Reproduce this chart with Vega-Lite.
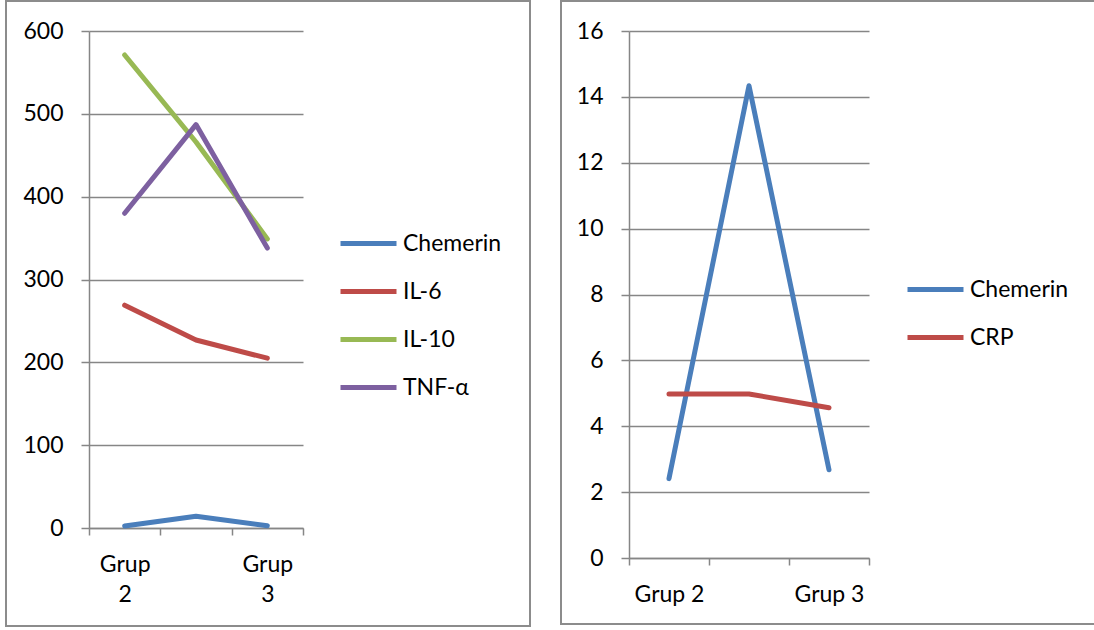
{
  "$schema": "https://vega.github.io/schema/vega-lite/v6.json",
  "padding": {"left": 5, "top": 0, "right": 0, "bottom": 0},
  "background": "white",
  "spacing": 29,
  "config": {
    "view": {"stroke": "#8c8c8c", "strokeWidth": 2},
    "font": "Lato",
    "axis": {
      "labelFont": "Lato", "labelFontSize": 23, "labelColor": "#000000",
      "domainColor": "#868686", "domainWidth": 1.5,
      "tickColor": "#868686", "tickWidth": 1.5,
      "gridColor": "#868686", "gridWidth": 1.5, "gridOpacity": 1,
      "title": null
    },
    "legend": {
      "title": null, "labelFont": "Lato", "labelFontSize": 23, "labelColor": "#000000",
      "symbolType": "stroke", "symbolSize": 3136, "symbolStrokeWidth": 5,
      "rowPadding": 5, "labelOffset": 4, "padding": 0
    },
    "line": {"strokeWidth": 5, "strokeCap": "round", "strokeJoin": "round"}
  },
  "hconcat": [
    {
      "width": 524,
      "height": 625,
      "data": {"values": [
        {"grup": "Grup 2", "series": "Chemerin", "value": 2.4},
        {"grup": "Grup 1", "series": "Chemerin", "value": 14.3},
        {"grup": "Grup 3", "series": "Chemerin", "value": 2.7},
        {"grup": "Grup 2", "series": "IL-6", "value": 269},
        {"grup": "Grup 1", "series": "IL-6", "value": 227},
        {"grup": "Grup 3", "series": "IL-6", "value": 205},
        {"grup": "Grup 2", "series": "IL-10", "value": 571},
        {"grup": "Grup 1", "series": "IL-10", "value": 466},
        {"grup": "Grup 3", "series": "IL-10", "value": 349},
        {"grup": "Grup 2", "series": "TNF-α", "value": 380},
        {"grup": "Grup 1", "series": "TNF-α", "value": 487},
        {"grup": "Grup 3", "series": "TNF-α", "value": 338}
      ]},
      "mark": {"type": "line"},
      "encoding": {
        "x": {
          "field": "grup", "type": "nominal", "sort": ["Grup 2", "Grup 1", "Grup 3"],
          "scale": {"type": "band", "range": [83, 297], "paddingInner": 0, "paddingOuter": 0},
          "axis": {
            "orient": "bottom", "offset": -98, "tickBand": "extent", "tickSize": 7,
            "labelAngle": 0, "labelPadding": 18, "labelLineHeight": 30,
            "labelExpr": "datum.value == 'Grup 1' ? '' : split(datum.label, ' ')",
            "grid": false
          }
        },
        "y": {
          "field": "value", "type": "quantitative",
          "scale": {"domain": [0, 600], "range": [527, 30], "nice": false},
          "axis": {"offset": -83, "values": [0, 100, 200, 300, 400, 500, 600], "tickSize": 8, "labelPadding": 18, "grid": true}
        },
        "color": {
          "field": "series", "type": "nominal",
          "sort": ["Chemerin", "IL-6", "IL-10", "TNF-α"],
          "scale": {"domain": ["Chemerin", "IL-6", "IL-10", "TNF-α"], "range": ["#4A7EBB", "#BE4B48", "#98B954", "#7D60A0"]},
          "legend": {"orient": "none", "legendX": 332, "legendY": 212}
        }
      }
    },
    {
      "width": 534,
      "height": 623,
      "data": {"values": [
        {"grup": "Grup 2", "series": "Chemerin", "value": 2.41},
        {"grup": "Grup 1", "series": "Chemerin", "value": 14.34},
        {"grup": "Grup 3", "series": "Chemerin", "value": 2.68},
        {"grup": "Grup 2", "series": "CRP", "value": 4.98},
        {"grup": "Grup 1", "series": "CRP", "value": 4.98},
        {"grup": "Grup 3", "series": "CRP", "value": 4.56}
      ]},
      "mark": {"type": "line"},
      "encoding": {
        "x": {
          "field": "grup", "type": "nominal", "sort": ["Grup 2", "Grup 1", "Grup 3"],
          "scale": {"type": "band", "range": [68, 308], "paddingInner": 0, "paddingOuter": 0},
          "axis": {
            "orient": "bottom", "offset": -66, "tickBand": "extent", "tickSize": 7,
            "labelAngle": 0, "labelPadding": 18,
            "labelExpr": "datum.value == 'Grup 1' ? '' : datum.label",
            "grid": false
          }
        },
        "y": {
          "field": "value", "type": "quantitative",
          "scale": {"domain": [0, 16], "range": [557, 30], "nice": false},
          "axis": {"offset": -68, "values": [0, 2, 4, 6, 8, 10, 12, 14, 16], "tickSize": 8, "labelPadding": 18, "grid": true}
        },
        "color": {
          "field": "series", "type": "nominal",
          "sort": ["Chemerin", "CRP"],
          "scale": {"domain": ["Chemerin", "CRP"], "range": ["#4A7EBB", "#BE4B48"]},
          "legend": {"orient": "none", "legendX": 344, "legendY": 258}
        }
      }
    }
  ],
  "resolve": {"scale": {"color": "independent", "x": "independent", "y": "independent"}}
}
